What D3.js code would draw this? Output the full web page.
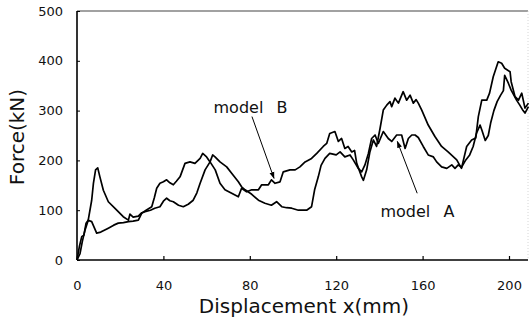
<!DOCTYPE html>
<html><head><meta charset="utf-8">
<script src="https://cdn.jsdelivr.net/npm/d3@7"></script>
<style>html,body{margin:0;padding:0;background:#fff;}svg{display:block;}</style>
</head><body>
<svg id="c" width="530" height="329"></svg>
<script>
const xTicks = [0, 40, 80, 120, 160, 200];
const yTicks = [0, 100, 200, 300, 400, 500];
const xTitle = "Displacement x(mm)";
const yTitle = "Force(kN)";
const seriesNames = ["model A", "model B"];

// model A: [displacement mm, force kN]
const modelA = [
[0,0],[1.1,27],[2.2,47],[3.2,50],[4.2,74],[5.2,80],[6.8,120],[7.6,154],[8.6,181],[9.6,185],
[10.6,167],[12.2,140],[14.5,117],[18.4,100],[21.4,87],[23.8,80],[24.5,92],[26,86],[28.4,88],[30,95],
[31.5,97],[34,100],[36,104],[38.4,107],[40,118],[41.5,124],[43,119],[44.6,117],[47,110],[49.2,107],
[51.5,112],[53.8,120],[55.5,135],[57,154],[59.3,181],[61.6,197],[62.8,211],[63.9,207],[66.2,197],[69.3,187],
[71.6,174],[74.7,157],[76.2,147],[77.8,141],[80.9,132],[84,120],[87,114],[90,110],[92.4,117],[94.8,107],
[97,105],[99.4,104],[102.5,100],[106.3,100],[108.6,107],[110,141],[111.7,167],[113,190],[114.8,204],[117,214],
[120,211],[121.8,217],[124,207],[126.4,211],[127.9,201],[130.2,184],[131.8,177],[133.3,191],[134.9,214],[136.4,244],
[138,251],[139.5,234],[141.8,258],[144.1,244],[145.7,238],[148,251],[150.3,251],[151.9,224],[153.4,244],[155,251],
[156.5,251],[158,246],[160.3,228],[162.6,211],[165,207],[166.5,197],[168.8,187],[171.2,184],[173.5,191],[175,184],
[176.5,191],[178,186],[180,201],[181.8,211],[183.4,228],[185,255],[186.6,271],[187.5,260],[189,240],[190.4,250],
[191.5,275],[193,300],[194.5,318],[196,330],[197.4,340],[198,371],[199.7,355],[201,341],[203.5,321],[205,311],
[206.5,300],[207.4,295],[209,308]
];

// model B: [displacement mm, force kN]
const modelB = [
[0,0],[1.4,13],[2.5,38],[3.7,60],[5.2,80],[6.8,77],[8,65],[9.1,54],[11,56],[14.5,64],
[17,70],[19.1,74],[21.5,75],[23.8,77],[26,78],[28.4,80],[30,94],[32,100],[34.6,107],[35.8,125],
[36.9,144],[38.4,154],[40,157],[41.5,161],[43,155],[44.6,151],[46,158],[47.7,167],[50,194],[52.3,197],
[54.6,194],[57,204],[58.2,214],[60,207],[61.6,197],[64,181],[66.2,154],[68.5,141],[71.6,134],[74.7,127],
[76.2,144],[78.5,137],[80.9,141],[84,141],[85.5,151],[88.6,151],[90,161],[91.7,154],[94,157],[95.5,177],
[98.6,181],[101,181],[103.2,187],[105.6,197],[108.6,204],[111,214],[114,228],[115.6,234],[117,254],[119.4,258],
[121,238],[122.5,244],[124,224],[125.5,228],[127.2,217],[128.5,220],[129.5,194],[131.8,167],[132.6,160],[134.1,181],
[135.6,217],[137.2,241],[138.7,228],[140.3,264],[141.8,301],[143.4,311],[144.9,318],[145.7,308],[147.2,325],[148.8,315],
[151,338],[152.6,321],[154.2,331],[155.7,315],[157,322],[158,315],[159.6,301],[162.6,271],[165.7,248],[168.8,228],
[171.8,217],[175.8,201],[178,184],[180.4,228],[182.7,241],[184.6,245],[185.8,288],[187.4,321],[189.7,321],[191,335],
[192.7,368],[195,398],[196.6,395],[198,385],[200.5,378],[201,358],[202.8,328],[204.4,321],[205.9,335],[207.4,305],
[209,315]
];

// annotation anchors: [label x mm, label force, arrow start mm, arrow start force, tip mm, tip force]
const noteA = [157.6, 87, 157.5, 134, 148.3, 238];
const noteB = [80.3, 296, 81, 288, 91.2, 164];

const svg = d3.select("#c");
const x = d3.scaleLinear().domain([0, 200]).range([77, 509]);
const y = d3.scaleLinear().domain([0, 500]).range([260, 11]);
const xMax = x.invert(528);

const font = "DejaVu Sans, Verdana, sans-serif";

// frame
svg.append("line").attr("x1", x(0)).attr("x2", x(xMax)).attr("y1", y(500)).attr("y2", y(500))
  .attr("stroke", "#444").attr("stroke-width", 1.2);
svg.append("line").attr("x1", x(xMax)).attr("x2", x(xMax)).attr("y1", y(500)).attr("y2", y(0))
  .attr("stroke", "#ccc").attr("stroke-width", 0.8).attr("stroke-dasharray", "1,2");

// axes
const xAxis = d3.axisBottom(x).tickValues(xTicks).tickSize(-4).tickPadding(20).tickFormat(d3.format("d"));
const gx = svg.append("g").attr("transform", `translate(0,${y(0)})`).call(xAxis);
gx.select(".domain").attr("d", `M${x(0)},0H${x(xMax)}`).attr("stroke", "#000").attr("stroke-width", 1.6);
gx.selectAll(".tick line").attr("stroke", "#000").attr("stroke-width", 1.2);
gx.selectAll(".tick text").attr("font-family", font).attr("font-size", 13).attr("fill", "#111").attr("dy", "0");
gx.selectAll(".tick text").attr("y", 30);

const yAxis = d3.axisLeft(y).tickValues(yTicks).tickSize(-3).tickPadding(14).tickFormat(d3.format("d"));
const gy = svg.append("g").attr("transform", `translate(${x(0)},0)`).call(yAxis);
gy.select(".domain").attr("d", `M0,${y(0)}V${y(500)}`).attr("stroke", "#000").attr("stroke-width", 1.6);
gy.selectAll(".tick line").attr("stroke", "#000").attr("stroke-width", 1);
gy.selectAll(".tick text").attr("font-family", font).attr("font-size", 13).attr("fill", "#111");

// titles
svg.append("text").attr("x", 304).attr("y", 313).attr("text-anchor", "middle")
  .attr("font-family", font).attr("font-size", 20).attr("fill", "#111").text(xTitle);
svg.append("text").attr("transform", "translate(24,137) rotate(-90)").attr("text-anchor", "middle")
  .attr("font-family", font).attr("font-size", 20).attr("fill", "#111").text(yTitle);

// curves
const line = d3.line().x(d => x(d[0])).y(d => y(d[1]));
[modelA, modelB].forEach(s => {
  svg.append("path").datum(s).attr("d", line).attr("fill", "none")
    .attr("stroke", "#000").attr("stroke-width", 1.7).attr("stroke-linejoin", "round");
});

// annotations
svg.append("defs").append("marker").attr("id", "ah").attr("viewBox", "0 0 10 10")
  .attr("refX", 9).attr("refY", 5).attr("markerWidth", 7).attr("markerHeight", 7)
  .attr("orient", "auto").attr("markerUnits", "userSpaceOnUse")
  .append("path").attr("d", "M0,1.5L10,5L0,8.5Z").attr("fill", "#000");

[[noteA, seriesNames[0]], [noteB, seriesNames[1]]].forEach(([n, label]) => {
  svg.append("text").attr("x", x(n[0])).attr("y", y(n[1])).attr("text-anchor", "middle")
    .attr("font-family", font).attr("font-size", 16).attr("fill", "#111")
    .attr("word-spacing", 8).text(label);
  svg.append("line").attr("x1", x(n[2])).attr("y1", y(n[3])).attr("x2", x(n[4])).attr("y2", y(n[5]))
    .attr("stroke", "#000").attr("stroke-width", 1).attr("marker-end", "url(#ah)");
});
</script>
</body></html>
